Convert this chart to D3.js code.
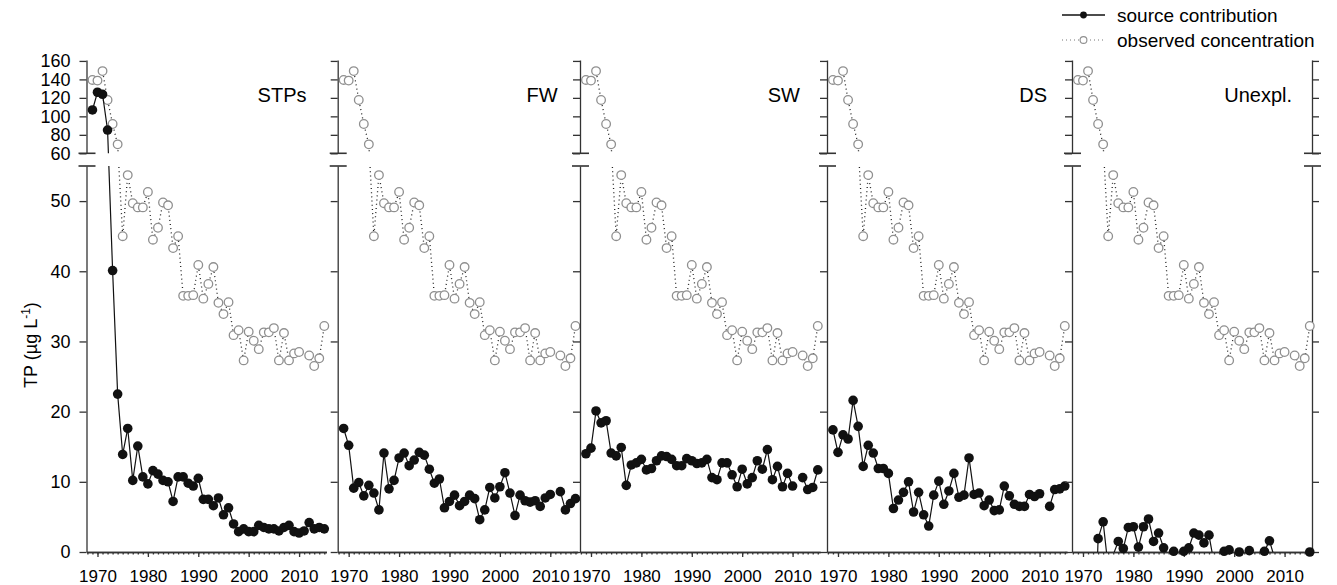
<!DOCTYPE html>
<html>
<head>
<meta charset="utf-8">
<script src="https://cdn.jsdelivr.net/npm/d3@7"></script>
<style>
body{ margin:0; background:#fff; }
text{ font-family:"Liberation Sans", Arial, sans-serif; fill:#000; }
</style>
</head>
<body>
<svg id="chart" width="1337" height="585"></svg>
<script>
// years 1969..2015, null = no value
var years = d3.range(1969, 2016);

var observed = [139.4, 138.7, 149.0, 117.7, 91.7, 69.7, 45.0, 53.7, 49.7, 49.1,
	49.1, 51.3, 44.5, 46.2, 49.8, 49.4, 43.3, 45.0, 36.5, 36.5,
	36.6, 40.9, 36.1, 38.2, 40.6, 35.5, 33.9, 35.6, 30.9, 31.6,
	27.3, 31.4, 30.1, 28.9, 31.3, 31.3, 31.9, 27.3, 31.2, 27.3,
	28.3, 28.5, null, 28.0, 26.5, 27.6, 32.2];

var stps = [106.9, 126.1, 123.9, 85.2, 40.1, 22.5, 13.9, 17.6, 10.2, 15.1,
	10.7, 9.7, 11.6, 11.1, 10.2, 10.0, 7.2, 10.7, 10.7, 9.8,
	9.4, 10.5, 7.5, 7.5, 6.6, 7.7, 5.3, 6.3, 4.0, 2.9,
	3.3, 2.9, 2.9, 3.8, 3.5, 3.3, 3.3, 3.0, 3.5, 3.8,
	2.9, 2.7, 3.0, 4.2, 3.3, 3.5, 3.3];

var fw = [17.6, 15.2, 9.1, 9.9, 8.0, 9.5, 8.4, 6.0, 14.1, 9.0,
	10.2, 13.4, 14.1, 12.3, 13.1, 14.2, 13.8, 11.8, 9.8, 10.4,
	6.3, 7.2, 8.1, 6.6, 7.2, 8.1, 7.6, 4.6, 6.0, 9.2,
	7.7, 9.3, 11.3, 8.4, 5.2, 8.1, 7.3, 7.1, 7.3, 6.5,
	7.7, 8.2, null, 8.6, 6.0, 6.9, 7.6];

var sw = [14.0, 14.8, 20.1, 18.4, 18.7, 14.1, 13.7, 14.9, 9.5, 12.4,
	12.7, 13.2, 11.7, 11.9, 13.0, 13.7, 13.6, 13.2, 12.3, 12.3,
	13.3, 13.0, 12.6, 12.7, 13.2, 10.6, 10.3, 12.7, 12.7, 11.0,
	9.3, 11.8, 9.7, 10.6, 13.0, 11.8, 14.6, 10.3, 12.2, 9.3,
	11.2, 9.4, null, 10.6, 8.9, 9.2, 11.7];

var ds = [17.4, 14.2, 16.7, 16.1, 21.6, 17.9, 12.2, 15.2, 14.1, 11.9,
	11.9, 11.2, 6.2, 7.4, 8.5, 10.0, 5.7, 8.5, 5.3, 3.7,
	8.1, 10.1, 6.8, 8.7, 11.2, 7.8, 8.1, 13.4, 8.2, 8.4,
	6.6, 7.4, 5.9, 6.0, 9.4, 8.0, 6.8, 6.5, 6.5, 8.2,
	7.9, 8.3, null, 6.5, 8.9, 9.0, 9.4];

// negative values fall below the axis and are cut off
var unexpl = [-3.0, -6.0, -9.0, -20.0, 1.9, 4.3, -2.2, -0.4, 1.5, 0.5,
	3.5, 3.6, 0.7, 3.6, 4.7, 1.5, 2.7, 0.6, -1.5, 0.1,
	-1.0, 0.1, 0.6, 2.7, 2.4, 1.3, 2.4, -1.6, -1.0, 0.1,
	0.3, -0.8, 0.0, -0.8, 0.2, -1.0, -0.6, 0.1, 1.6, -0.8,
	-1.5, -1.2, null, -1.0, -1.5, -0.8, 0.0];

var panelNames = ["STPs", "FW", "SW", "DS", "Unexpl."];
var sources = [stps, fw, sw, ds, unexpl];

var upperTicks = [60, 80, 100, 120, 140, 160];
var lowerTicks = [0, 10, 20, 30, 40, 50];
var decadeTicks = [1970, 1980, 1990, 2000, 2010];

// layout
var panelLeft = [86.5, 337.7, 580, 827, 1072];
var panelWidth = 240;
var axisColor = "#333";
var dotColor = "#111";
var openColor = "#8f8f8f";

var svg = d3.select("#chart");

var yUp = d3.scaleLinear().domain([60, 161]).range([153.3, 60]);
var yLow = d3.scaleLinear().domain([0, 55]).range([552, 166]);
var yPos = function(v){
	if(v >= 60){ return yUp(v); }
	if(v <= 55){ return yLow(v); }
	return yLow(55) + (v - 55) / 5 * (yUp(60) - yLow(55));
};

// clip regions for the broken axis
var defs = svg.append("defs");
defs.append("clipPath").attr("id", "clip-up")
	.append("rect").attr("x", 0).attr("y", 0).attr("width", 1337).attr("height", yUp(60));
defs.append("clipPath").attr("id", "clip-low")
	.append("rect").attr("x", 0).attr("y", yLow(55)).attr("width", 1337).attr("height", yLow(0) - yLow(55));

var styleAxis = function(g){
	g.selectAll("path, line").attr("stroke", axisColor).attr("stroke-width", 1.3);
	g.selectAll("text").attr("fill", "#000");
};

var drawYAxis = function(g, x, left, labels){
	var mk = left ? d3.axisLeft : d3.axisRight;
	var up = g.append("g").attr("transform", "translate(" + x + ",0)")
		.call(mk(yUp).tickValues(upperTicks).tickSize(7).tickSizeOuter(0).tickPadding(9)
			.tickFormat(labels ? d3.format("d") : ""));
	var low = g.append("g").attr("transform", "translate(" + x + ",0)")
		.call(mk(yLow).tickValues(lowerTicks).tickSize(7).tickSizeOuter(0).tickPadding(9)
			.tickFormat(labels ? d3.format("d") : ""));
	[up, low].forEach(function(a){
		styleAxis(a);
		a.selectAll("text").attr("font-size", 18);
	});
	// break marks
	[yUp(60), yLow(55)].forEach(function(y){
		g.append("line")
			.attr("x1", x - 8).attr("x2", x + 9)
			.attr("y1", y).attr("y2", y)
			.attr("stroke", axisColor).attr("stroke-width", 1.6);
	});
};

var drawSeries = function(g, x, values, open){
	var pts = years.map(function(yr, i){ return { year: yr, v: values[i] }; });
	var line = d3.line()
		.defined(function(d){ return d.v !== null; })
		.x(function(d){ return x(d.year); })
		.y(function(d){ return yPos(d.v); });
	["clip-up", "clip-low"].forEach(function(c){
		g.append("path")
			.datum(pts)
			.attr("clip-path", "url(#" + c + ")")
			.attr("d", line)
			.attr("fill", "none")
			.attr("stroke", open ? "#222" : dotColor)
			.attr("stroke-width", open ? 1.3 : 1.2)
			.attr("stroke-dasharray", open ? "1,3.2" : null);
	});
	g.selectAll(null)
		.data(pts.filter(function(d){ return d.v !== null && d.v >= 0; }))
		.enter().append("circle")
		.attr("cx", function(d){ return x(d.year); })
		.attr("cy", function(d){ return yPos(d.v); })
		.attr("r", open ? 4.3 : 4.8)
		.attr("fill", open ? "#fff" : dotColor)
		.attr("stroke", open ? openColor : "none")
		.attr("stroke-width", 1.3);
};

panelNames.forEach(function(name, p){
	var L = panelLeft[p];
	var x = d3.scaleLinear().domain([1967.82, 2015.44]).range([L, L + panelWidth]);
	var g = svg.append("g");

	// x axis
	var minor = g.append("g").attr("transform", "translate(0," + yLow(0) + ")")
		.call(d3.axisBottom(x).tickValues(d3.range(1968, 2016)).tickSize(2.5).tickSizeOuter(0).tickFormat(""));
	styleAxis(minor);
	var major = g.append("g").attr("transform", "translate(0," + yLow(0) + ")")
		.call(d3.axisBottom(x).tickValues(decadeTicks).tickSize(5).tickSizeOuter(0).tickPadding(13)
			.tickFormat(d3.format("d")));
	styleAxis(major);
	major.selectAll("text").attr("font-size", 17);

	drawYAxis(g, L, true, p === 0);
	if(p === panelNames.length - 1){
		drawYAxis(g, L + panelWidth, false, false);
	}

	drawSeries(g, x, observed, true);
	drawSeries(g, x, sources[p], false);

	g.append("text")
		.attr("x", L + 220).attr("y", 101.5)
		.attr("text-anchor", "end")
		.attr("font-size", 20)
		.text(name);
});

// y axis title
svg.append("text")
	.attr("transform", "translate(37,345) rotate(-90)")
	.attr("text-anchor", "middle")
	.attr("font-size", 18)
	.call(function(t){
		t.append("tspan").text("TP (µg L");
		t.append("tspan").attr("font-size", 12).attr("dy", -7).text("-1");
		t.append("tspan").attr("dy", 7).text(")");
	});

// legend
var legend = svg.append("g");
var legendItems = [
	{ label: "source contribution", open: false, y: 15 },
	{ label: "observed concentration", open: true, y: 40 }
];
legendItems.forEach(function(d){
	legend.append("line")
		.attr("x1", 1062).attr("x2", 1105).attr("y1", d.y).attr("y2", d.y)
		.attr("stroke", d.open ? "#777" : dotColor)
		.attr("stroke-width", d.open ? 1 : 1.3)
		.attr("stroke-dasharray", d.open ? "1,3" : null);
	legend.append("circle")
		.attr("cx", 1083.5).attr("cy", d.y).attr("r", 3.4)
		.attr("fill", d.open ? "#fff" : dotColor)
		.attr("stroke", d.open ? openColor : "none")
		.attr("stroke-width", 1.1);
	legend.append("text")
		.attr("x", 1117).attr("y", d.y).attr("dy", "0.35em")
		.attr("font-size", 19)
		.text(d.label);
});
</script>
</body>
</html>
